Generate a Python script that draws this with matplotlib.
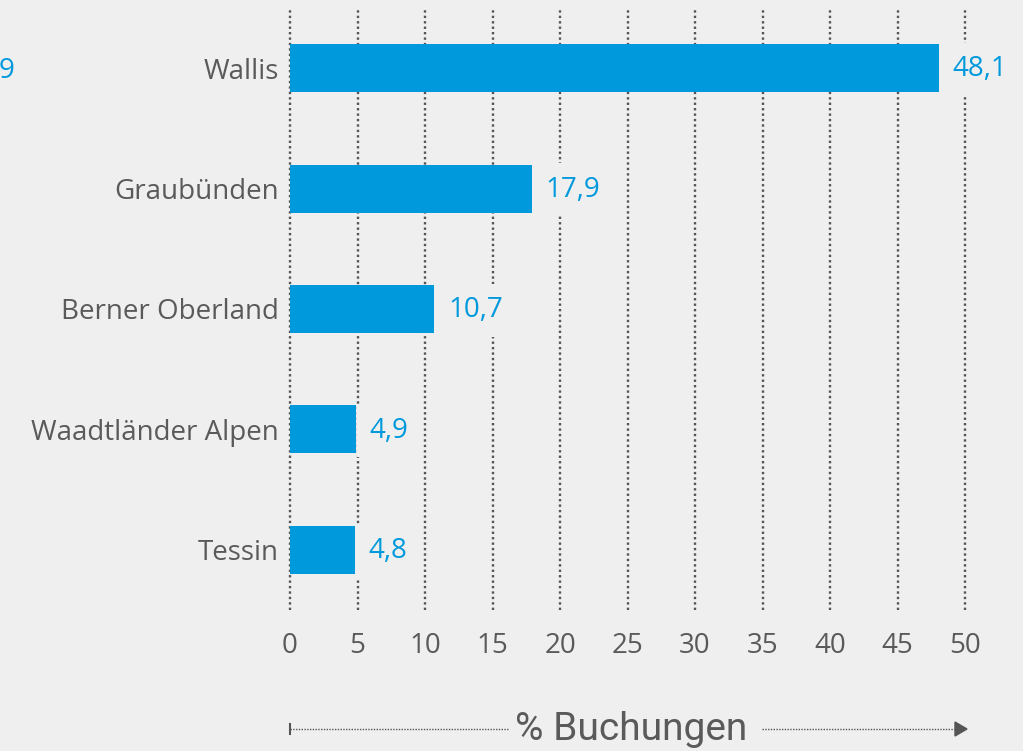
import matplotlib
matplotlib.use("Agg")
import matplotlib.pyplot as plt

categories = ["Wallis", "Graubünden", "Berner Oberland", "Waadtländer Alpen", "Tessin"]
values = [48.1, 17.9, 10.7, 4.9, 4.8]
value_labels = ["48,1", "17,9", "10,7", "4,9", "4,8"]
xticks = [0, 5, 10, 15, 20, 25, 30, 35, 40, 45, 50]
xlabel = "% Buchungen"
stray_label = "9"

BG = "#efefef"
BLUE = "#0099dc"
GREY = "#5a5a5a"
DOT = "#555555"
plt.rcParams['font.family'] = ['Open Sans', 'DejaVu Sans']
FS = 20

W, H = 1023, 751
fig = plt.figure(figsize=(W / 100, H / 100), dpi=100, facecolor=BG)
ax = fig.add_axes([290 / W, 1 - 610 / H, (965 - 290) / W, (610 - 8) / H])
ax.set_facecolor(BG)

ypos = list(range(len(categories)))
ax.barh(ypos, values, height=0.4, color=BLUE, zorder=3)
for y, v, lab in zip(ypos, values, value_labels):
    ax.text(v + 1.0, y + 0.01, lab, color=BLUE, fontsize=FS, va='center', ha='left', zorder=4,
            bbox=dict(boxstyle='square,pad=0.45', facecolor=BG, edgecolor='none'))

ax.set_xlim(0, 50)
ax.set_ylim(len(categories) - 0.5, -0.5)
ax.set_yticks(ypos)
ax.set_yticklabels(categories, fontsize=FS, color=GREY)
ax.set_xticks(xticks)
ax.set_xticklabels([str(t) for t in xticks], fontsize=FS, color=GREY)
ax.tick_params(axis='both', length=0)
ax.tick_params(axis='y', pad=8)
ax.tick_params(axis='x', pad=16)
for s in ax.spines.values():
    s.set_visible(False)
for t in xticks:
    ax.axvline(t, color=DOT, linestyle=(0, (1, 1.3)), linewidth=1.7, zorder=1, clip_on=False)

# stray clipped label at left edge
fig.text(14 / W, 1 - 71 / H, stray_label, color=BLUE, fontsize=FS, ha='right', va='center')

# axis title with dotted arrow
yl = 1 - 729 / H
fig.text((515 + 748) / 2 / W, yl, xlabel, color=GREY, fontsize=28, ha='center', va='center',
         family=['Roboto', 'DejaVu Sans'])
fig.add_artist(plt.Line2D([290 / W, 508 / W], [yl, yl], color=DOT, linestyle=(0, (1, 1)), linewidth=1.0))
fig.add_artist(plt.Line2D([290 / W, 290 / W], [yl - 5 / H, yl + 5 / H], color=DOT, linewidth=1.5))
fig.add_artist(plt.Line2D([762 / W, 955 / W], [yl, yl], color=DOT, linestyle=(0, (1, 1)), linewidth=1.0))
fig.add_artist(plt.Polygon([[955 / W, yl + 7 / H], [955 / W, yl - 7 / H], [967 / W, yl]],
                           closed=True, color=DOT, transform=fig.transFigure))

fig.savefig("out.png", dpi=100, facecolor=BG)
